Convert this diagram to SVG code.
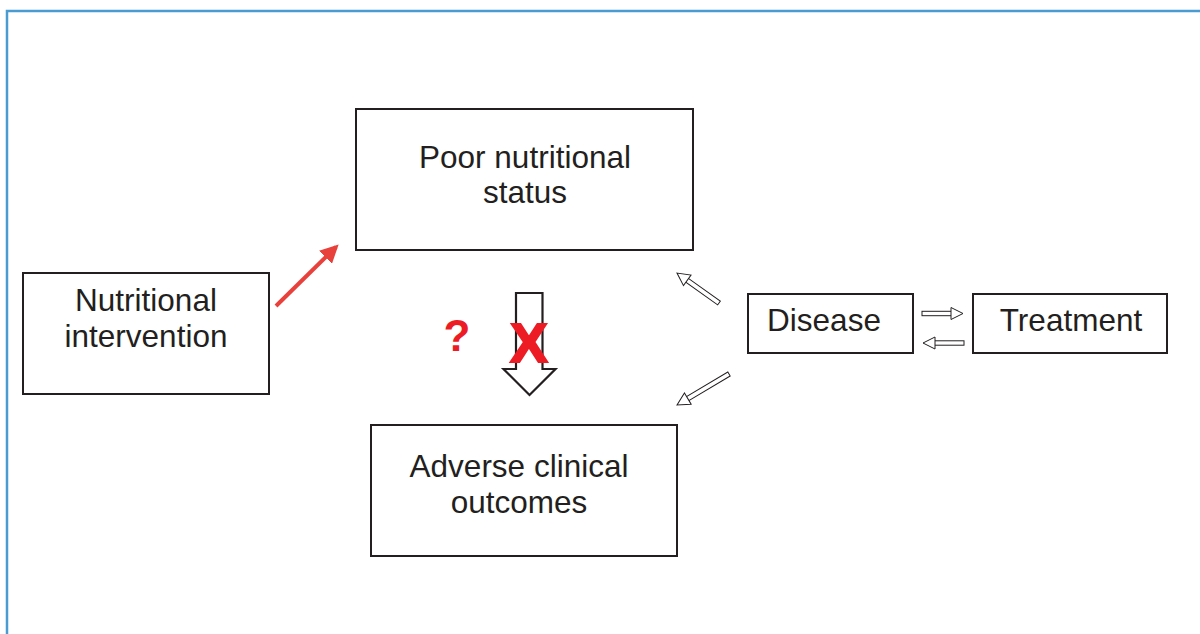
<svg xmlns="http://www.w3.org/2000/svg" width="1200" height="634" viewBox="0 0 1200 634">
  <style>
    .box { fill: #ffffff; stroke: #231f20; stroke-width: 2; }
    .lbl { font-family: "Liberation Sans", Arial, sans-serif; font-size: 31.5px; fill: #231f20; text-anchor: middle; }
    .hollow { fill: #ffffff; stroke: #231f20; stroke-width: 1; stroke-linejoin: miter; }
    .big-arrow { fill: #ffffff; stroke: #231f20; stroke-width: 2.2; stroke-linejoin: miter; }
    .mark { font-family: "Liberation Sans", Arial, sans-serif; font-weight: bold; fill: #ed1c24; text-anchor: middle; }
  </style>
  <defs>
    <marker id="redHead" viewBox="0 0 10 10" refX="8" refY="5" markerWidth="4.6" markerHeight="4.6" orient="auto" markerUnits="strokeWidth">
      <path d="M0,0 L10,5 L0,10 z" fill="#e8403a"/>
    </marker>
  </defs>

  <rect width="1200" height="634" fill="#ffffff"/>
  <!-- frame -->
  <path d="M7,634 V11 H1200" fill="none" stroke="#4a9bd1" stroke-width="2.5"/>

  <g id="node-poor-status">
    <rect class="box" x="356" y="109" width="337" height="141"/>
    <text class="lbl" x="525" y="168">Poor nutritional</text>
    <text class="lbl" x="525" y="203">status</text>
  </g>

  <g id="node-intervention">
    <rect class="box" x="23" y="273" width="246" height="121"/>
    <text class="lbl" x="146" y="311">Nutritional</text>
    <text class="lbl" x="146" y="347">intervention</text>
  </g>

  <g id="node-outcomes">
    <rect class="box" x="371" y="425" width="306" height="131"/>
    <text class="lbl" x="519" y="477">Adverse clinical</text>
    <text class="lbl" x="519" y="513">outcomes</text>
  </g>

  <g id="node-disease">
    <rect class="box" x="748" y="294" width="165" height="59"/>
    <text class="lbl" x="824" y="331">Disease</text>
  </g>

  <g id="node-treatment">
    <rect class="box" x="973" y="294" width="194" height="59"/>
    <text class="lbl" x="1071" y="331">Treatment</text>
  </g>

  <g id="connectors">
    <!-- intervention acts on nutritional status -->
    <line x1="276" y1="306" x2="336" y2="247" stroke="#e8403a" stroke-width="4" marker-end="url(#redHead)"/>

    <!-- questioned causal link: status to outcomes -->
    <path class="big-arrow" d="M516,293 H542.5 V369 H555.5 L529.5,395 L503.5,369 H516 Z"/>
    <text class="mark" x="529" y="362" font-size="56" stroke="#ed1c24" stroke-width="2.2" stroke-linejoin="miter">X</text>
    <text class="mark" x="457" y="351" font-size="44">?</text>

    <!-- disease to status -->
    <g transform="translate(719,303) rotate(215.5)">
      <rect class="hollow" x="0" y="-2.3" width="44" height="4.6"/>
      <path class="hollow" d="M39,-6.5 L51.6,0 L39,6.5 Z"/>
    </g>
    <!-- disease to outcomes -->
    <g transform="translate(729,374) rotate(149.2)">
      <rect class="hollow" x="0" y="-2.3" width="53" height="4.6"/>
      <path class="hollow" d="M48,-6.5 L60.5,0 L48,6.5 Z"/>
    </g>
    <!-- disease to treatment -->
    <g transform="translate(922,313.5)">
      <rect class="hollow" x="0" y="-2.2" width="35" height="4.4"/>
      <path class="hollow" d="M29,-6 L41,0 L29,6 Z"/>
    </g>
    <!-- treatment to disease -->
    <g transform="translate(964,343) rotate(180)">
      <rect class="hollow" x="0" y="-2.2" width="35" height="4.4"/>
      <path class="hollow" d="M29,-6 L41,0 L29,6 Z"/>
    </g>
  </g>
</svg>
